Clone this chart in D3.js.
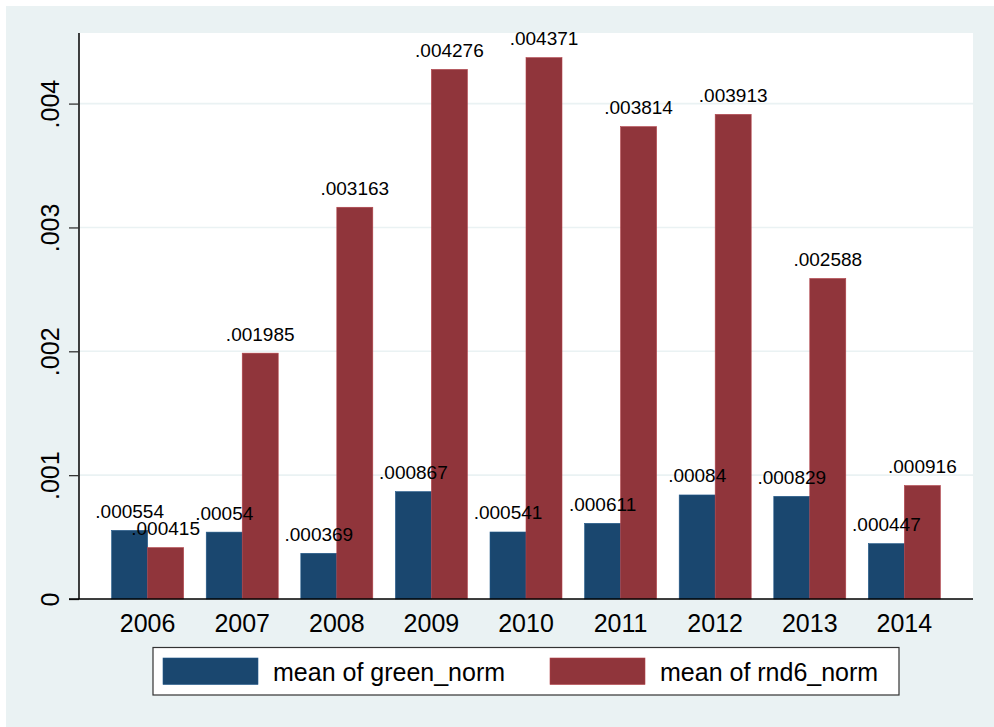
<!DOCTYPE html>
<html>
<head>
<meta charset="utf-8">
<script src="https://cdn.jsdelivr.net/npm/d3@7/dist/d3.min.js"></script>
<style>
  html, body { margin: 0; padding: 0; background: #ffffff; }
  svg { display: block; font-family: "Liberation Sans", Arial, Helvetica, sans-serif; }
</style>
</head>
<body>
<svg id="chart" width="994" height="727"></svg>
<script>
// ---- data ----
const years = ["2006", "2007", "2008", "2009", "2010", "2011", "2012", "2013", "2014"];
const greenNorm = [0.000554, 0.00054, 0.000369, 0.000867, 0.000541, 0.000611, 0.00084, 0.000829, 0.000447];
const rnd6Norm = [0.000415, 0.001985, 0.003163, 0.004276, 0.004371, 0.003814, 0.003913, 0.002588, 0.000916];
const seriesNames = ["mean of green_norm", "mean of rnd6_norm"];
const yTicks = [0, 0.001, 0.002, 0.003, 0.004];

const colors = ["#1a476f", "#90353b"];
const series = [greenNorm, rnd6Norm];

const svg = d3.select("#chart");
const W = 994, H = 727;
const plot = { left: 79, right: 973, top: 33, bottom: 599 };

// backgrounds
svg.append("rect").attr("x", 6).attr("y", 6).attr("width", W - 6).attr("height", H - 6).attr("fill", "#eaf2f3");
svg.append("rect").attr("x", plot.left).attr("y", plot.top)
  .attr("width", plot.right - plot.left).attr("height", plot.bottom - plot.top).attr("fill", "#ffffff");

// scales
const x0 = d3.scaleBand().domain(years).range([plot.left, plot.right])
  .paddingInner(0.239).paddingOuter(0.345);
const x1 = d3.scaleBand().domain([0, 1]).range([0, x0.bandwidth()]).padding(0);
const y = d3.scaleLinear().domain([0, 0.00457]).range([plot.bottom, plot.top]);

const fmtTick = v => v === 0 ? "0" : d3.format(".3f")(v).replace(/^0/, "");
const fmtVal = v => d3.format(".6f")(v).replace(/0+$/, "").replace(/^0/, "");

// gridlines
svg.append("g").selectAll("line").data(yTicks.filter(d => d > 0)).join("line")
  .attr("x1", plot.left).attr("x2", plot.right)
  .attr("y1", d => y(d)).attr("y2", d => y(d))
  .attr("stroke", "#eaf2f3").attr("stroke-width", 1.6);

// bars
const groups = svg.append("g").selectAll("g").data(years).join("g")
  .attr("transform", d => `translate(${x0(d)},0)`);
groups.selectAll("rect").data((d, i) => series.map((s, k) => ({ k, v: s[i] }))).join("rect")
  .attr("x", d => x1(d.k)).attr("width", x1.bandwidth())
  .attr("y", d => y(d.v)).attr("height", d => y(0) - y(d.v))
  .attr("fill", d => colors[d.k])
  .attr("stroke", d => d3.color(colors[d.k]).brighter(0.6))
  .attr("stroke-width", 0.6);

// value labels
groups.selectAll("text").data((d, i) => series.map((s, k) => ({ k, v: s[i] }))).join("text")
  .attr("x", d => x1(d.k) + x1.bandwidth() / 2)
  .attr("y", d => y(d.v) - 12.5)
  .attr("text-anchor", "middle")
  .attr("font-size", 19)
  .attr("fill", "#000")
  .text(d => fmtVal(d.v));

// y axis
const yAxis = d3.axisLeft(y).tickValues(yTicks).tickSize(10).tickFormat(fmtTick);
const ya = svg.append("g").attr("transform", `translate(${plot.left},0)`).call(yAxis);
ya.select(".domain").attr("d", `M0,${plot.top}V${plot.bottom}`).attr("stroke", "#000").attr("stroke-width", 1.5);
ya.selectAll(".tick line").attr("stroke", "#333").attr("stroke-width", 1.3);
ya.selectAll(".tick text")
  .attr("font-size", 25).attr("font-family", "Liberation Sans, Arial, sans-serif")
  .attr("fill", "#000")
  .attr("x", null).attr("dy", null)
  .attr("text-anchor", "middle")
  .attr("transform", "translate(-20,0) rotate(-90)")
  .attr("y", 0);

// x axis
const xAxis = d3.axisBottom(x0).tickSize(0).tickPadding(0);
const xa = svg.append("g").attr("transform", `translate(0,${plot.bottom})`).call(xAxis);
xa.select(".domain").attr("d", `M${plot.left - 10},0H${plot.right}`).attr("stroke", "#000").attr("stroke-width", 1.5);
xa.selectAll(".tick text")
  .attr("font-size", 25).attr("font-family", "Liberation Sans, Arial, sans-serif")
  .attr("fill", "#000")
  .attr("dy", null).attr("y", 33);

// legend
const lg = svg.append("g");
lg.append("rect").attr("x", 153).attr("y", 647.5).attr("width", 746).attr("height", 47.5)
  .attr("fill", "#fff").attr("stroke", "#333").attr("stroke-width", 1.2);
const keyX = [163, 550];
seriesNames.forEach((name, k) => {
  lg.append("rect").attr("x", keyX[k]).attr("y", 658).attr("width", 95).attr("height", 26.5)
    .attr("fill", colors[k]).attr("stroke", d3.color(colors[k]).brighter(0.6)).attr("stroke-width", 0.6);
  lg.append("text").attr("x", keyX[k] + 110).attr("y", 681).attr("font-size", 25).attr("fill", "#000").text(name);
});
</script>
</body>
</html>
